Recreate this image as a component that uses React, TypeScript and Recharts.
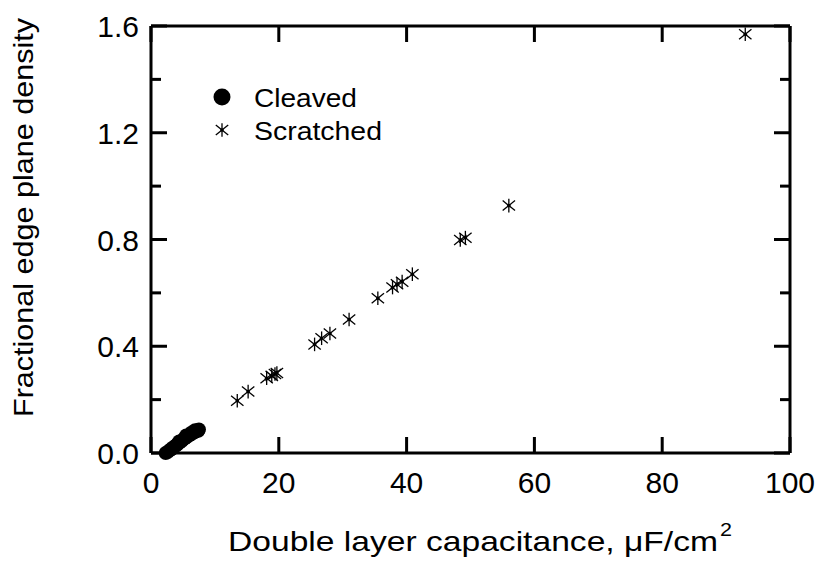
import { Scatter, ScatterChart, XAxis, YAxis } from 'recharts';

// Double layer capacitance (uF/cm2) vs fractional edge plane density
const cleavedCapacitance = [2.3, 2.6, 2.9, 3.1, 3.3, 3.5, 3.8, 4.0, 4.2, 4.5, 4.8, 5.0, 5.3, 5.6, 6.0, 6.4, 6.8, 7.2, 7.5, 4.4, 5.5, 6.3, 6.9, 7.4];
const cleavedDensity = [0.0, 0.004, 0.01, 0.013, 0.016, 0.022, 0.026, 0.03, 0.034, 0.04, 0.045, 0.05, 0.055, 0.06, 0.066, 0.072, 0.078, 0.084, 0.088, 0.043, 0.066, 0.076, 0.085, 0.083];

const scratchedCapacitance = [13.5, 15.2, 18.1, 18.9, 19.4, 19.7, 25.6, 26.7, 28.0, 31.0, 35.5, 37.8, 38.5, 39.3, 40.9, 48.4, 49.2, 56.0, 93.0];
const scratchedDensity = [0.196, 0.23, 0.28, 0.289, 0.296, 0.3, 0.407, 0.43, 0.448, 0.5, 0.58, 0.62, 0.632, 0.642, 0.67, 0.798, 0.807, 0.927, 1.569];

const xTicks = [0, 20, 40, 60, 80, 100];
const yTicks = [0, 0.2, 0.4, 0.6, 0.8, 1.0, 1.2, 1.4, 1.6];
const yLabelled = [0, 0.4, 0.8, 1.2, 1.6];

const cleaved = cleavedCapacitance.map((x, i) => ({ x, y: cleavedDensity[i] }));
const scratched = scratchedCapacitance.map((x, i) => ({ x, y: scratchedDensity[i] }));

const FONT = 'Arial, "Liberation Sans", sans-serif';
const MAJOR = 16;
const MINOR = 10;
const T = 3; // tick thickness

function Dot(props: any) {
  const { cx, cy } = props;
  return <circle cx={cx} cy={cy} r={7} fill="#000" />;
}

function Star(props: any) {
  const { cx, cy } = props;
  return (
    <g stroke="#000" strokeWidth={1.3}>
      <line x1={cx} y1={cy - 6.8} x2={cx} y2={cy + 6.8} />
      <line x1={cx - 6.2} y1={cy - 5} x2={cx + 6.2} y2={cy + 5} />
      <line x1={cx - 6.2} y1={cy + 5} x2={cx + 6.2} y2={cy - 5} />
      <circle cx={cx} cy={cy} r={1.8} fill="#000" stroke="none" />
    </g>
  );
}

// tick marks are drawn as rects: stroked lines inside custom ticks get no stroke
function BottomTick(props: any) {
  const { x, y, payload } = props;
  return (
    <g>
      <rect x={x - T / 2} y={y - MAJOR} width={T} height={MAJOR} fill="#000" />
      <text x={x} y={y + 40} textAnchor="middle" fontSize={30} fontFamily={FONT} fill="#000">
        {payload.value}
      </text>
    </g>
  );
}

function TopTick(props: any) {
  const { x, y } = props;
  return <rect x={x - T / 2} y={y} width={T} height={MAJOR} fill="#000" />;
}

function isMajor(v: number) {
  return yLabelled.some((t) => Math.abs(t - v) < 1e-6);
}

function LeftTick(props: any) {
  const { x, y, payload } = props;
  const major = isMajor(payload.value);
  return (
    <g>
      <rect x={x} y={y - T / 2} width={major ? MAJOR : MINOR} height={T} fill="#000" />
      {major && (
        <text x={x - 12} y={y + 11} textAnchor="end" fontSize={30} fontFamily={FONT} fill="#000">
          {payload.value.toFixed(1)}
        </text>
      )}
    </g>
  );
}

function RightTick(props: any) {
  const { x, y, payload } = props;
  const len = isMajor(payload.value) ? MAJOR : MINOR;
  return <rect x={x - len} y={y - T / 2} width={len} height={T} fill="#000" />;
}

function LegendBox() {
  return (
    <svg
      width={200}
      height={70}
      style={{ position: 'absolute', left: 205, top: 82, overflow: 'visible' }}
    >
      <circle cx={17} cy={15} r={8.5} fill="#000" />
      <text x={49} y={25} fontSize={26} fontFamily={FONT} fill="#000" textLength={103} lengthAdjust="spacingAndGlyphs">
        Cleaved
      </text>
      <Star cx={17} cy={48} />
      <text x={49} y={58} fontSize={26} fontFamily={FONT} fill="#000" textLength={128} lengthAdjust="spacingAndGlyphs">
        Scratched
      </text>
    </svg>
  );
}

const axisLine = { stroke: '#000', strokeWidth: 3 };

export default function App() {
  return (
    <div style={{ position: 'absolute', left: 0, top: 0, width: 822, height: 563, background: '#fff' }}>
      <ScatterChart width={822} height={563} margin={{ top: 25, right: 31, left: 0, bottom: 0 }}>
        <XAxis
          xAxisId="b"
          type="number"
          dataKey="x"
          domain={[0, 100]}
          ticks={xTicks}
          orientation="bottom"
          height={110}
          axisLine={axisLine}
          tickLine={false}
          tickSize={0}
          tickMargin={0}
          tick={<BottomTick />}
          interval={0}
          label={{
            content: () => (
              <g fontFamily={FONT} fill="#000">
                <text x={228} y={551} fontSize={28} textLength={490} lengthAdjust="spacingAndGlyphs">
                  Double layer capacitance, μF/cm
                </text>
                <text x={720} y={536} fontSize={19} textLength={12} lengthAdjust="spacingAndGlyphs">
                  2
                </text>
              </g>
            )
          }}
        />
        <XAxis
          xAxisId="t"
          type="number"
          dataKey="x"
          domain={[0, 100]}
          ticks={xTicks}
          orientation="top"
          height={1}
          axisLine={axisLine}
          tickLine={false}
          tickSize={0}
          tickMargin={0}
          tick={<TopTick />}
          interval={0}
        />
        <YAxis
          yAxisId="l"
          type="number"
          dataKey="y"
          domain={[0, 1.6]}
          ticks={yTicks}
          orientation="left"
          width={151}
          axisLine={axisLine}
          tickLine={false}
          tickSize={0}
          tickMargin={0}
          tick={<LeftTick />}
          interval={0}
          label={{
            content: () => (
              <text
                x={33}
                y={417}
                transform="rotate(-90 33 417)"
                fontSize={28}
                fontFamily={FONT}
                fill="#000"
                textLength={399}
                lengthAdjust="spacingAndGlyphs"
              >
                Fractional edge plane density
              </text>
            )
          }}
        />
        <YAxis
          yAxisId="r"
          type="number"
          dataKey="y"
          domain={[0, 1.6]}
          ticks={yTicks}
          orientation="right"
          width={1}
          axisLine={axisLine}
          tickLine={false}
          tickSize={0}
          tickMargin={0}
          tick={<RightTick />}
          interval={0}
        />
        <Scatter name="Cleaved" data={cleaved} xAxisId="b" yAxisId="l" shape={<Dot />} isAnimationActive={false} />
        <Scatter name="Scratched" data={scratched} xAxisId="t" yAxisId="r" shape={<Star />} isAnimationActive={false} />
      </ScatterChart>
      <LegendBox />
    </div>
  );
}
